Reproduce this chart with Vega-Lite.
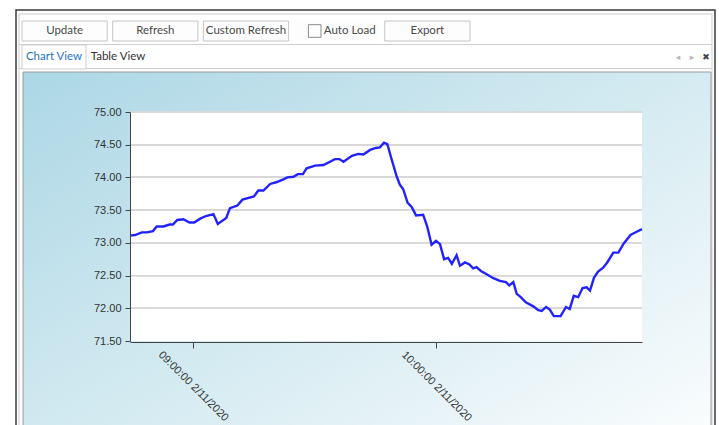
{
  "$schema": "https://vega.github.io/schema/vega-lite/v6.json",
  "width": 719,
  "height": 425,
  "autosize": "none",
  "padding": 0,
  "background": "#ffffff",
  "config": {"view": {"stroke": null}},
  "resolve": {"scale": {"x": "independent", "y": "independent"}},
  "layer": [
    {
      "data": {"values": [{}]},
      "mark": {"type": "rect", "fill": "#ffffff", "stroke": "#3a3a3a", "strokeWidth": 1.5},
      "encoding": {
        "x": {"datum": 0, "type": "quantitative", "scale": {"domain": [0, 1], "range": [16, 715]}, "axis": null},
        "x2": {"datum": 1},
        "y": {"datum": 0, "type": "quantitative", "scale": {"domain": [0, 1], "range": [10, 470]}, "axis": null},
        "y2": {"datum": 1}
      }
    },
    {
      "data": {"values": [{}]},
      "mark": {"type": "rect", "fill": null, "stroke": "#cdcdcd", "strokeWidth": 1},
      "encoding": {
        "x": {"datum": 0, "type": "quantitative", "scale": {"domain": [0, 1], "range": [19, 712]}, "axis": null},
        "x2": {"datum": 1},
        "y": {"datum": 0, "type": "quantitative", "scale": {"domain": [0, 1], "range": [14, 470]}, "axis": null},
        "y2": {"datum": 1}
      }
    },
    {
      "data": {"values": [{"sep": "toolbar"}, {"sep": "tabs"}]},
      "mark": {"type": "rule", "stroke": "#cfcfcf", "strokeWidth": 1},
      "encoding": {
        "x": {"datum": 0, "type": "quantitative", "scale": {"domain": [0, 1], "range": [19, 712]}, "axis": null},
        "x2": {"datum": 1},
        "y": {"field": "sep", "type": "nominal", "scale": {"type": "point", "domain": ["toolbar", "tabs"], "range": [44.5, 68.5], "padding": 0}, "axis": null}
      }
    },
    {
      "data": {"values": [{"label": "Update"}, {"label": "Refresh"}, {"label": "Custom Refresh"}, {"label": "Auto Load"}, {"label": "Export"}]},
      "encoding": {
        "x": {"field": "label", "type": "nominal", "sort": null, "scale": {"type": "band", "domain": ["Update", "Refresh", "Custom Refresh", "Auto Load", "Export"], "range": [22, 470], "paddingInner": 0.06, "paddingOuter": 0}, "axis": null}
      },
      "layer": [
        {
          "mark": {"type": "rect", "fill": "#fdfdfd"},
          "encoding": {
            "y": {"datum": 0, "type": "quantitative", "scale": {"domain": [0, 1], "range": [21, 41]}, "axis": null},
            "y2": {"datum": 1},
            "stroke": {"condition": {"test": "datum.label === 'Auto Load'", "value": "transparent"}, "value": "#c4c4c4"}
          }
        },
        {
          "transform": [{"filter": "datum.label !== 'Auto Load'"}],
          "mark": {"type": "text", "font": "Lato", "fontSize": 11.5, "color": "#4a4a4a"},
          "encoding": {
            "y": {"datum": 0.5, "type": "quantitative"},
            "text": {"field": "label"}
          }
        },
        {
          "transform": [{"filter": "datum.label === 'Auto Load'"}],
          "mark": {"type": "text", "font": "Lato", "fontSize": 11.5, "color": "#4a4a4a", "dx": 13},
          "encoding": {
            "y": {"datum": 0.5, "type": "quantitative"},
            "text": {"field": "label"}
          }
        },
        {
          "transform": [{"filter": "datum.label === 'Auto Load'"}],
          "mark": {"type": "square", "filled": false, "stroke": "#8a8a8a", "strokeWidth": 1, "size": 160, "xOffset": -22, "opacity": 1},
          "encoding": {
            "y": {"datum": 0.5, "type": "quantitative"}
          }
        }
      ]
    },
    {
      "data": {"values": [{"tab": "Chart View"}, {"tab": "Table View"}]},
      "encoding": {
        "x": {"field": "tab", "type": "nominal", "sort": null, "scale": {"type": "band", "domain": ["Chart View", "Table View"], "range": [22, 150], "paddingInner": 0, "paddingOuter": 0}, "axis": null}
      },
      "layer": [
        {
          "transform": [{"filter": "datum.tab === 'Chart View'"}],
          "mark": {"type": "rect", "fill": "#ffffff", "stroke": "#cdcdcd"},
          "encoding": {
            "y": {"datum": 0, "type": "quantitative", "scale": {"domain": [0, 1], "range": [45, 69]}, "axis": null},
            "y2": {"datum": 1}
          }
        },
        {
          "mark": {"type": "text", "font": "Lato", "fontSize": 11.5},
          "encoding": {
            "y": {"datum": 0.5, "type": "quantitative"},
            "text": {"field": "tab"},
            "color": {"condition": {"test": "datum.tab === 'Chart View'", "value": "#1c74c9"}, "value": "#333333"}
          }
        }
      ]
    },
    {
      "data": {"values": [{"icon": "◂"}, {"icon": "▸"}, {"icon": "✖"}]},
      "mark": {"type": "text", "font": "DejaVu Sans", "fontSize": 9},
      "encoding": {
        "x": {"field": "icon", "type": "nominal", "sort": null, "scale": {"type": "band", "domain": ["◂", "▸", "✖"], "range": [671, 713], "paddingInner": 0, "paddingOuter": 0}, "axis": null},
        "y": {"datum": 0.5, "type": "quantitative", "scale": {"domain": [0, 1], "range": [45, 69]}, "axis": null},
        "text": {"field": "icon"},
        "color": {"condition": {"test": "datum.icon === '✖'", "value": "#444444"}, "value": "#b8b8b8"}
      }
    },
    {
      "data": {"values": [{}]},
      "mark": {
        "type": "rect",
        "stroke": "#9a9a9a",
        "strokeWidth": 1,
        "fill": {"gradient": "linear", "x1": 0, "y1": 0, "x2": 1, "y2": 1, "stops": [{"offset": 0, "color": "#acd7e5"}, {"offset": 1, "color": "#ffffff"}]}
      },
      "encoding": {
        "x": {"datum": 0, "type": "quantitative", "scale": {"domain": [0, 1], "range": [23, 711]}, "axis": null},
        "x2": {"datum": 1},
        "y": {"datum": 0, "type": "quantitative", "scale": {"domain": [0, 1], "range": [72, 480]}, "axis": null},
        "y2": {"datum": 1}
      }
    },
    {
      "data": {
        "values": [
          {"time": "2020-02-11T08:44:30", "value": 73.11},
          {"time": "2020-02-11T08:45:45", "value": 73.12},
          {"time": "2020-02-11T08:47:25", "value": 73.16},
          {"time": "2020-02-11T08:48:40", "value": 73.16},
          {"time": "2020-02-11T08:50:10", "value": 73.18},
          {"time": "2020-02-11T08:51:05", "value": 73.25},
          {"time": "2020-02-11T08:52:45", "value": 73.25},
          {"time": "2020-02-11T08:54:15", "value": 73.28},
          {"time": "2020-02-11T08:55:05", "value": 73.28},
          {"time": "2020-02-11T08:56:10", "value": 73.35},
          {"time": "2020-02-11T08:57:40", "value": 73.36},
          {"time": "2020-02-11T08:59:10", "value": 73.31},
          {"time": "2020-02-11T09:00:20", "value": 73.31},
          {"time": "2020-02-11T09:01:50", "value": 73.37},
          {"time": "2020-02-11T09:03:15", "value": 73.41},
          {"time": "2020-02-11T09:05:05", "value": 73.44},
          {"time": "2020-02-11T09:06:10", "value": 73.29},
          {"time": "2020-02-11T09:08:15", "value": 73.38},
          {"time": "2020-02-11T09:09:10", "value": 73.53},
          {"time": "2020-02-11T09:11:00", "value": 73.57},
          {"time": "2020-02-11T09:12:15", "value": 73.66},
          {"time": "2020-02-11T09:15:05", "value": 73.71},
          {"time": "2020-02-11T09:16:10", "value": 73.8},
          {"time": "2020-02-11T09:17:25", "value": 73.8},
          {"time": "2020-02-11T09:19:05", "value": 73.9},
          {"time": "2020-02-11T09:20:45", "value": 73.93},
          {"time": "2020-02-11T09:22:20", "value": 73.97},
          {"time": "2020-02-11T09:23:20", "value": 74.0},
          {"time": "2020-02-11T09:24:50", "value": 74.01},
          {"time": "2020-02-11T09:25:55", "value": 74.05},
          {"time": "2020-02-11T09:27:10", "value": 74.05},
          {"time": "2020-02-11T09:28:05", "value": 74.14},
          {"time": "2020-02-11T09:30:10", "value": 74.18},
          {"time": "2020-02-11T09:32:15", "value": 74.19},
          {"time": "2020-02-11T09:33:50", "value": 74.24},
          {"time": "2020-02-11T09:35:05", "value": 74.28},
          {"time": "2020-02-11T09:36:10", "value": 74.28},
          {"time": "2020-02-11T09:37:10", "value": 74.24},
          {"time": "2020-02-11T09:39:15", "value": 74.33},
          {"time": "2020-02-11T09:40:50", "value": 74.36},
          {"time": "2020-02-11T09:42:05", "value": 74.35},
          {"time": "2020-02-11T09:43:45", "value": 74.42},
          {"time": "2020-02-11T09:45:10", "value": 74.45},
          {"time": "2020-02-11T09:46:10", "value": 74.46},
          {"time": "2020-02-11T09:47:10", "value": 74.53},
          {"time": "2020-02-11T09:48:00", "value": 74.51},
          {"time": "2020-02-11T09:49:05", "value": 74.27},
          {"time": "2020-02-11T09:50:20", "value": 74.01},
          {"time": "2020-02-11T09:51:05", "value": 73.89},
          {"time": "2020-02-11T09:51:55", "value": 73.82},
          {"time": "2020-02-11T09:53:00", "value": 73.61},
          {"time": "2020-02-11T09:54:00", "value": 73.55},
          {"time": "2020-02-11T09:55:05", "value": 73.42},
          {"time": "2020-02-11T09:56:50", "value": 73.43},
          {"time": "2020-02-11T09:57:50", "value": 73.25},
          {"time": "2020-02-11T09:58:55", "value": 72.97},
          {"time": "2020-02-11T10:00:00", "value": 73.03},
          {"time": "2020-02-11T10:01:00", "value": 72.98},
          {"time": "2020-02-11T10:02:00", "value": 72.75},
          {"time": "2020-02-11T10:03:00", "value": 72.77},
          {"time": "2020-02-11T10:03:55", "value": 72.68},
          {"time": "2020-02-11T10:05:05", "value": 72.81},
          {"time": "2020-02-11T10:05:55", "value": 72.65},
          {"time": "2020-02-11T10:07:10", "value": 72.7},
          {"time": "2020-02-11T10:08:15", "value": 72.67},
          {"time": "2020-02-11T10:09:10", "value": 72.61},
          {"time": "2020-02-11T10:10:00", "value": 72.63},
          {"time": "2020-02-11T10:11:05", "value": 72.57},
          {"time": "2020-02-11T10:12:30", "value": 72.52},
          {"time": "2020-02-11T10:14:10", "value": 72.46},
          {"time": "2020-02-11T10:15:45", "value": 72.42},
          {"time": "2020-02-11T10:17:15", "value": 72.4},
          {"time": "2020-02-11T10:18:05", "value": 72.35},
          {"time": "2020-02-11T10:19:05", "value": 72.4},
          {"time": "2020-02-11T10:19:55", "value": 72.22},
          {"time": "2020-02-11T10:20:55", "value": 72.17},
          {"time": "2020-02-11T10:22:10", "value": 72.09},
          {"time": "2020-02-11T10:24:00", "value": 72.03},
          {"time": "2020-02-11T10:25:15", "value": 71.97},
          {"time": "2020-02-11T10:26:05", "value": 71.96},
          {"time": "2020-02-11T10:27:10", "value": 72.02},
          {"time": "2020-02-11T10:28:05", "value": 71.98},
          {"time": "2020-02-11T10:29:05", "value": 71.88},
          {"time": "2020-02-11T10:30:45", "value": 71.88},
          {"time": "2020-02-11T10:32:05", "value": 72.02},
          {"time": "2020-02-11T10:33:00", "value": 71.99},
          {"time": "2020-02-11T10:34:00", "value": 72.19},
          {"time": "2020-02-11T10:35:05", "value": 72.17},
          {"time": "2020-02-11T10:36:10", "value": 72.31},
          {"time": "2020-02-11T10:37:10", "value": 72.32},
          {"time": "2020-02-11T10:38:00", "value": 72.27},
          {"time": "2020-02-11T10:39:00", "value": 72.47},
          {"time": "2020-02-11T10:40:00", "value": 72.56},
          {"time": "2020-02-11T10:41:15", "value": 72.62},
          {"time": "2020-02-11T10:42:15", "value": 72.7},
          {"time": "2020-02-11T10:43:45", "value": 72.85},
          {"time": "2020-02-11T10:45:00", "value": 72.85},
          {"time": "2020-02-11T10:46:20", "value": 72.99},
          {"time": "2020-02-11T10:48:00", "value": 73.12},
          {"time": "2020-02-11T10:49:30", "value": 73.17},
          {"time": "2020-02-11T10:50:50", "value": 73.21}
        ]
      },
      "layer": [
        {
          "mark": {"type": "rect", "fill": "#ffffff"},
          "encoding": {
            "x": {"datum": {"year": 2020, "month": 2, "date": 11, "hours": 8, "minutes": 44, "seconds": 30}, "type": "temporal"},
            "x2": {"datum": {"year": 2020, "month": 2, "date": 11, "hours": 10, "minutes": 50, "seconds": 50}},
            "y": {"datum": 71.5, "type": "quantitative"},
            "y2": {"datum": 75}
          }
        },
        {"mark": {"type": "rule", "stroke": "#d9d9d9", "strokeWidth": 1}, "encoding": {"x": {"datum": {"year": 2020, "month": 2, "date": 11, "hours": 8, "minutes": 44, "seconds": 30}, "type": "temporal"}, "x2": {"datum": {"year": 2020, "month": 2, "date": 11, "hours": 10, "minutes": 50, "seconds": 50}}, "y": {"datum": 72, "type": "quantitative"}}},
        {"mark": {"type": "rule", "stroke": "#d9d9d9", "strokeWidth": 1}, "encoding": {"x": {"datum": {"year": 2020, "month": 2, "date": 11, "hours": 8, "minutes": 44, "seconds": 30}, "type": "temporal"}, "x2": {"datum": {"year": 2020, "month": 2, "date": 11, "hours": 10, "minutes": 50, "seconds": 50}}, "y": {"datum": 72.5, "type": "quantitative"}}},
        {"mark": {"type": "rule", "stroke": "#d9d9d9", "strokeWidth": 1}, "encoding": {"x": {"datum": {"year": 2020, "month": 2, "date": 11, "hours": 8, "minutes": 44, "seconds": 30}, "type": "temporal"}, "x2": {"datum": {"year": 2020, "month": 2, "date": 11, "hours": 10, "minutes": 50, "seconds": 50}}, "y": {"datum": 73, "type": "quantitative"}}},
        {"mark": {"type": "rule", "stroke": "#d9d9d9", "strokeWidth": 1}, "encoding": {"x": {"datum": {"year": 2020, "month": 2, "date": 11, "hours": 8, "minutes": 44, "seconds": 30}, "type": "temporal"}, "x2": {"datum": {"year": 2020, "month": 2, "date": 11, "hours": 10, "minutes": 50, "seconds": 50}}, "y": {"datum": 73.5, "type": "quantitative"}}},
        {"mark": {"type": "rule", "stroke": "#d9d9d9", "strokeWidth": 1}, "encoding": {"x": {"datum": {"year": 2020, "month": 2, "date": 11, "hours": 8, "minutes": 44, "seconds": 30}, "type": "temporal"}, "x2": {"datum": {"year": 2020, "month": 2, "date": 11, "hours": 10, "minutes": 50, "seconds": 50}}, "y": {"datum": 74, "type": "quantitative"}}},
        {"mark": {"type": "rule", "stroke": "#d9d9d9", "strokeWidth": 1}, "encoding": {"x": {"datum": {"year": 2020, "month": 2, "date": 11, "hours": 8, "minutes": 44, "seconds": 30}, "type": "temporal"}, "x2": {"datum": {"year": 2020, "month": 2, "date": 11, "hours": 10, "minutes": 50, "seconds": 50}}, "y": {"datum": 74.5, "type": "quantitative"}}},
        {"mark": {"type": "rule", "stroke": "#d9d9d9", "strokeWidth": 1}, "encoding": {"x": {"datum": {"year": 2020, "month": 2, "date": 11, "hours": 8, "minutes": 44, "seconds": 30}, "type": "temporal"}, "x2": {"datum": {"year": 2020, "month": 2, "date": 11, "hours": 10, "minutes": 50, "seconds": 50}}, "y": {"datum": 75, "type": "quantitative"}}},
        {
          "mark": {"type": "line", "color": "#2222ff", "strokeWidth": 2.4},
          "encoding": {
            "x": {
              "field": "time",
              "type": "temporal",
              "scale": {
                "domain": [
                  {"year": 2020, "month": 2, "date": 11, "hours": 8, "minutes": 44, "seconds": 30},
                  {"year": 2020, "month": 2, "date": 11, "hours": 10, "minutes": 50, "seconds": 50}
                ],
                "range": [130, 642],
                "nice": false
              },
              "axis": {
                "orient": "bottom",
                "offset": -83,
                "zindex": 1,
                "values": [
                  {"year": 2020, "month": 2, "date": 11, "hours": 9},
                  {"year": 2020, "month": 2, "date": 11, "hours": 10}
                ],
                "format": "%H:%M:%S %-m/%d/%Y",
                "labelAngle": 45,
                "labelAlign": "center",
                "labelBaseline": "middle",
                "labelPadding": 38,
                "labelOverlap": false,
                "labelFlush": false,
                "tickSize": 6,
                "tickColor": "#444444",
                "domainColor": "#444444",
                "labelColor": "#333333",
                "labelFont": "Liberation Sans",
                "labelFontSize": 11,
                "grid": false,
                "title": null
              }
            },
            "y": {
              "field": "value",
              "type": "quantitative",
              "scale": {"domain": [71.5, 75], "range": [341, 112], "nice": false, "zero": false},
              "axis": {
                "orient": "left",
                "offset": -130,
                "zindex": 1,
                "values": [71.5, 72, 72.5, 73, 73.5, 74, 74.5, 75],
                "format": ".2f",
                "tickSize": 5,
                "labelPadding": 4,
                "tickColor": "#444444",
                "domainColor": "#444444",
                "labelColor": "#333333",
                "labelFont": "Liberation Sans",
                "labelFontSize": 11,
                "grid": false,
                "title": null
              }
            }
          }
        }
      ]
    }
  ]
}
